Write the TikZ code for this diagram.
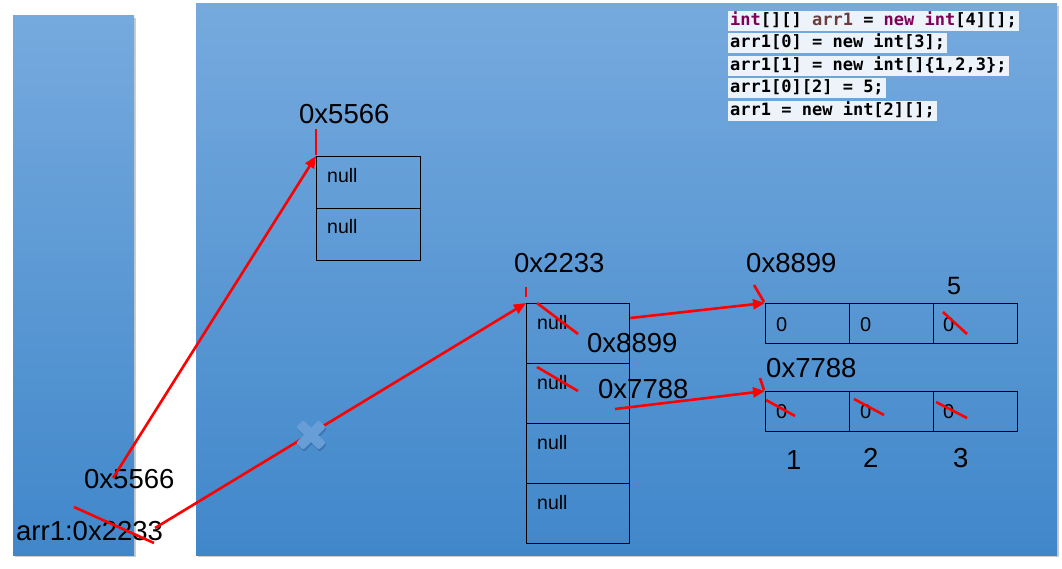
\documentclass[tikz,border=0pt]{standalone}
\usepackage{fontspec}
\setmainfont{Liberation Sans}
\newfontfamily\codefont{DejaVu Sans Mono}
\usetikzlibrary{arrows.meta}
\definecolor{bgtop}{RGB}{118,170,222}
\definecolor{bgbot}{RGB}{64,135,202}
\definecolor{kw}{RGB}{127,0,85}
\definecolor{varc}{RGB}{106,62,62}
\definecolor{codebg}{RGB}{236,243,250}
\definecolor{crossblue}{RGB}{104,158,216}
\definecolor{crossdark}{RGB}{52,100,160}
\begin{document}
\begin{tikzpicture}[x=1pt,y=-1pt,
  lbl/.style={font=\fontsize{27.5}{29}\selectfont, anchor=base west, inner sep=0pt},
  nulltxt/.style={font=\fontsize{19.5}{21}\selectfont, anchor=base west, inner sep=0pt},
  zerotxt/.style={font=\fontsize{20}{22}\selectfont, anchor=base west, inner sep=0pt},
  cell/.style={draw=black, line width=1.3pt, anchor=north west, inner sep=0pt},
  tallcell/.style={cell, minimum width=104pt, minimum height=52pt},
  midcell/.style={cell, minimum width=103pt, minimum height=60pt},
  smallcell/.style={cell, minimum width=84pt, minimum height=40pt},
  redl/.style={draw=red, line width=2.6pt},
  redarrow/.style={redl, -{Triangle[length=12pt,width=10pt]}},
  codeline/.style={anchor=north west, fill=codebg, inner xsep=2pt, inner ysep=0pt,
     minimum height=20pt, text height=12.5pt, text depth=3.5pt,
     font=\codefont\bfseries\fontsize{17}{20}\selectfont},
  panel/.style={top color=bgtop, bottom color=bgbot, draw=none}
]
\useasboundingbox (0,0) rectangle (1062,568);
\fill[white] (0,0) rectangle (1062,568);

% panels with shadow
\fill[black!20] (15,18) rectangle (136,557);
\fill[black!20] (198,6) rectangle (1059,557);
\path[panel] (13,15) rectangle (134,555);
\path[panel] (196,3) rectangle (1057,555);

% code
\node[codeline] (c1) at (728,11) {\textcolor{kw}{int}[][] \textcolor{varc}{arr1} = \textcolor{kw}{new} \textcolor{kw}{int}[4][];};
\node[codeline] (c2) at (728,33) {arr1[0] = new int[3];};
\node[codeline] (c3) at (728,56) {arr1[1] = new int[]\{1,2,3\};};
\node[codeline] (c4) at (728,78) {arr1[0][2] = 5;};
\node[codeline] (c5) at (728,101) {arr1 = new int[2][];};

% array 0x5566
\node[tallcell] (a1) at (316,156) {};
\node[tallcell] (a2) at (316,208) {};
\node[nulltxt] (a1t) at ([shift={(11,26)}]a1.north west) {null};
\node[nulltxt] (a2t) at ([shift={(11,25)}]a2.north west) {null};
\node[lbl] (a1lbl) at (299,123) {0x5566};

% array 0x2233
\node[midcell] (b1) at (526,303) {};
\node[midcell] (b2) at (526,363) {};
\node[midcell] (b3) at (526,423) {};
\node[midcell] (b4) at (526,483) {};
\node[nulltxt] (b1t) at ([shift={(11,26)}]b1.north west) {null};
\node[nulltxt] (b2t) at ([shift={(11,26)}]b2.north west) {null};
\node[nulltxt] (b3t) at ([shift={(11,26)}]b3.north west) {null};
\node[nulltxt] (b4t) at ([shift={(11,26)}]b4.north west) {null};
\node[lbl] (blbl) at (514,272) {0x2233};

% array 0x8899
\node[smallcell] (d1) at (765,303) {};
\node[smallcell] (d2) at (849,303) {};
\node[smallcell] (d3) at (933,303) {};
\node[zerotxt] (d1t) at ([shift={(11,28)}]d1.north west) {0};
\node[zerotxt] (d2t) at ([shift={(11,28)}]d2.north west) {0};
\node[zerotxt] (d3t) at ([shift={(10,28)}]d3.north west) {0};
\node[lbl] (dlbl) at (746,272) {0x8899};
\node[lbl, font=\fontsize{25}{27}\selectfont] (five) at (947,294) {5};

% array 0x7788
\node[smallcell] (e1) at (765,391) {};
\node[smallcell] (e2) at (849,391) {};
\node[smallcell] (e3) at (933,391) {};
\node[zerotxt] (e1t) at ([shift={(11,27)}]e1.north west) {0};
\node[zerotxt] (e2t) at ([shift={(11,27)}]e2.north west) {0};
\node[zerotxt] (e3t) at ([shift={(10,27)}]e3.north west) {0};
\node[lbl] (elbl) at (766,377) {0x7788};
\node[lbl] (one) at (786,469) {1};
\node[lbl] (two) at (863,467) {2};
\node[lbl] (three) at (953,467) {3};

% overlay labels
\node[lbl] (ov1) at (587,352) {0x8899};
\node[lbl] (ov2) at (598,398) {0x7788};

% stack labels
\node[lbl] (s1) at (84,488) {0x5566};
\node[lbl] (s2) at (16,540) {arr1:0x2233};

% connectors
\coordinate (s1start) at (113,478);
\coordinate (s2start) at (155,528);
\coordinate (ov2start) at (615,409);
\draw[redarrow] (s1start) -- (a1.north west);
\draw[redarrow] (s2start) -- (b1.north west);
\draw[redarrow] (b1.east |- 0,318) -- (d1.north west);
\draw[redarrow] (ov2start) -- (e1.north west);

% ticks
\draw[redl] (a1.north west) ++(0,-27) -- ++(0,26);
\draw[redl] (b1.north west) ++(0,-16) -- ++(0,10);
\draw[redl] (d1.north west) ++(-11,-18) -- ++(10,17);
\draw[redl] (e1.north west) ++(-5,-13) -- ++(4,12);

% strike-throughs
\draw[redl] (74,507) -- (154,543);
\draw[redl] (537,303) -- (578,334);
\draw[redl] (537,367) -- (578,391);
\draw[redl] (943,312) -- (967,334);
\draw[redl] (766,400) -- (795,416);
\draw[redl] (854,399) -- (884,415);
\draw[redl] (936,402) -- (967,418);

% blue cross
\begin{scope}[shift={(312,437)}, rotate=45]
  \fill[crossdark, opacity=0.6, rounded corners=2pt] (-16,-5) rectangle (16,5);
  \fill[crossdark, opacity=0.6, rounded corners=2pt] (-5,-16) rectangle (5,16);
\end{scope}
\begin{scope}[shift={(311,435)}, rotate=45]
  \fill[crossblue, rounded corners=2pt] (-16,-5) rectangle (16,5);
  \fill[crossblue, rounded corners=2pt] (-5,-16) rectangle (5,16);
\end{scope}
\end{tikzpicture}
\end{document}
